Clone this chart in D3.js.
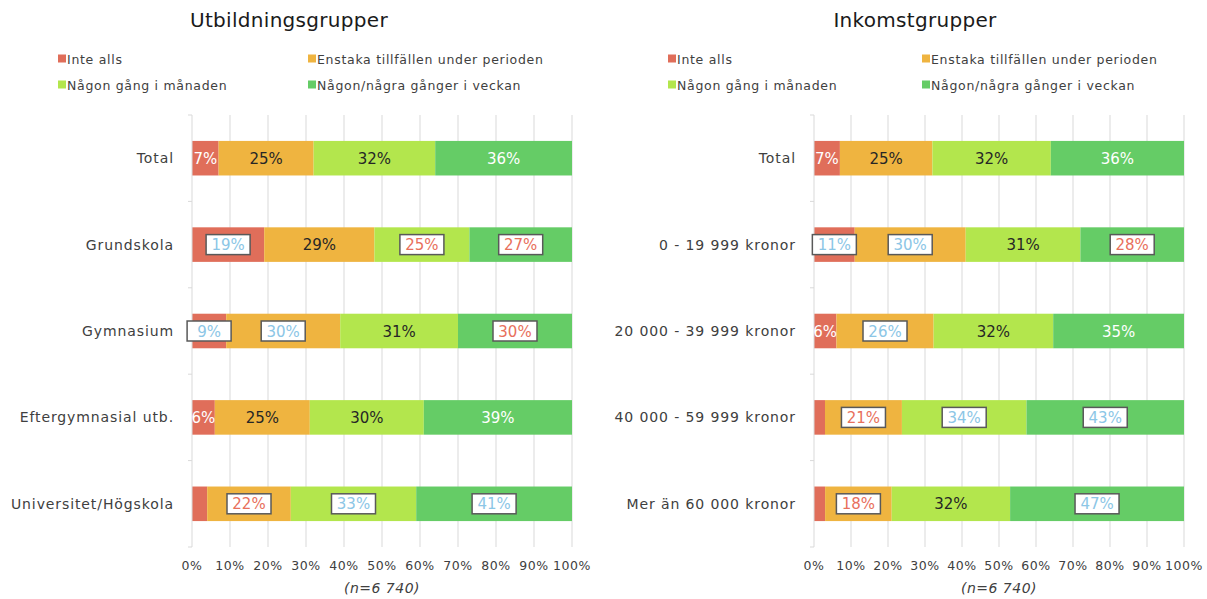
<!DOCTYPE html>
<html>
<head>
<meta charset="utf-8">
<script src="https://cdn.jsdelivr.net/npm/d3@7"></script>
<style>
  body { margin: 0; background: #fff; }
  svg text { font-family: "DejaVu Sans", sans-serif; }
</style>
</head>
<body>
<svg id="chart"></svg>
<script>
const width = 1207;
const height = 599;

// series (legend order)
const seriesNames = ['Inte alls', 'Enstaka tillfällen under perioden', 'Någon gång i månaden', 'Någon/några gånger i veckan'];
const seriesColors = ['#E06E5A', '#EFB440', '#B3E64D', '#65CC66'];
const plainTextColors = ['#ffffff', '#262626', '#262626', '#ffffff'];

// education groups
const eduCategories = ['Total', 'Grundskola', 'Gymnasium', 'Eftergymnasial utb.', 'Universitet/Högskola'];
const eduValues = [
  [7, 25, 32, 36],
  [19, 29, 25, 27],
  [9, 30, 31, 30],
  [6, 25, 30, 39],
  [4, 22, 33, 41]
];
// 'hi' = boxed blue, 'lo' = boxed red, '' = plain, 'none' = no label
const eduFlags = [
  ['', '', '', ''],
  ['hi', '', 'lo', 'lo'],
  ['hi', 'hi', '', 'lo'],
  ['', '', '', ''],
  ['none', 'lo', 'hi', 'hi']
];

// income groups
const incCategories = ['Total', '0 - 19 999 kronor', '20 000 - 39 999 kronor', '40 000 - 59 999 kronor', 'Mer än 60 000 kronor'];
const incValues = [
  [7, 25, 32, 36],
  [11, 30, 31, 28],
  [6, 26, 32, 35],
  [3, 21, 34, 43],
  [3, 18, 32, 47]
];
const incFlags = [
  ['', '', '', ''],
  ['hi', 'hi', '', 'lo'],
  ['', 'hi', '', ''],
  ['none', 'lo', 'hi', 'hi'],
  ['none', 'lo', '', 'hi']
];

const xTicks = [0, 10, 20, 30, 40, 50, 60, 70, 80, 90, 100];
const nText = '(n=6 740)';

const svg = d3.select('#chart')
  .attr('width', width)
  .attr('height', height);

function drawChart(opt) {
  const g = svg.append('g');
  const top = 115, bottom = 547;

  const x = d3.scaleLinear().domain([0, 100]).range([opt.x0, opt.x1]);
  const y = d3.scaleBand()
    .domain(opt.categories)
    .range([top, bottom])
    .paddingInner(0.6)
    .paddingOuter(0.3);

  // title
  g.append('text')
    .attr('x', opt.titleX)
    .attr('y', 27)
    .attr('text-anchor', 'middle')
    .attr('font-size', 20)
    .attr('letter-spacing', 0.3)
    .attr('fill', '#1a1a1a')
    .text(opt.title);

  // legend
  const legendPos = [[0, 0], [1, 0], [0, 1], [1, 1]];
  seriesNames.forEach((name, i) => {
    const lx = opt.legendX[legendPos[i][0]];
    const ly = 59 + legendPos[i][1] * 26;
    g.append('rect')
      .attr('x', lx).attr('y', ly - 4.5)
      .attr('width', 8).attr('height', 8)
      .attr('fill', seriesColors[i]);
    g.append('text')
      .attr('x', lx + 9).attr('y', ly + 4.5)
      .attr('font-size', 12.5)
      .attr('letter-spacing', 0.7)
      .attr('fill', '#404040')
      .text(name);
  });

  // gridlines
  g.selectAll('.grid')
    .data(xTicks.filter(d => d > 0))
    .enter()
    .append('line')
    .attr('x1', d => x(d)).attr('x2', d => x(d))
    .attr('y1', top).attr('y2', bottom)
    .attr('stroke', '#d9d9d9')
    .attr('stroke-width', 1);

  // x tick labels
  g.selectAll('.xlab')
    .data(xTicks)
    .enter()
    .append('text')
    .attr('x', d => x(d))
    .attr('y', 570)
    .attr('text-anchor', 'middle')
    .attr('font-size', 12.5)
    .attr('letter-spacing', 0.6)
    .attr('fill', '#404040')
    .text(d => d + '%');

  g.append('text')
    .attr('x', (opt.x0 + opt.x1) / 2)
    .attr('y', 593)
    .attr('text-anchor', 'middle')
    .attr('font-size', 14)
    .attr('font-style', 'italic')
    .attr('letter-spacing', 0.5)
    .attr('fill', '#404040')
    .text(nText);

  // bars
  const rows = opt.values.map((vals, r) => {
    const sum = d3.sum(vals);
    let acc = 0;
    return vals.map((v, i) => {
      const start = acc / sum * 100;
      acc += v;
      return { cat: opt.categories[r], v, i, start, end: acc / sum * 100, flag: opt.flags[r][i] };
    });
  });
  const segs = rows.flat();

  g.selectAll('.bar')
    .data(segs)
    .enter()
    .append('rect')
    .attr('x', d => x(d.start))
    .attr('y', d => y(d.cat))
    .attr('width', d => x(d.end) - x(d.start))
    .attr('height', y.bandwidth())
    .attr('fill', d => seriesColors[d.i]);

  // left axis with category ticks
  g.append('line')
    .attr('x1', opt.x0).attr('x2', opt.x0)
    .attr('y1', top).attr('y2', bottom)
    .attr('stroke', '#d9d9d9');
  d3.range(opt.categories.length + 1).forEach(k => {
    const ty = top + k * y.step();
    g.append('line')
      .attr('x1', opt.x0 - 4).attr('x2', opt.x0)
      .attr('y1', ty).attr('y2', ty)
      .attr('stroke', '#d9d9d9');
  });

  g.selectAll('.cat')
    .data(opt.categories)
    .enter()
    .append('text')
    .attr('x', opt.x0 - 18)
    .attr('y', d => y(d) + y.bandwidth() / 2 + 5)
    .attr('text-anchor', 'end')
    .attr('font-size', 14)
    .attr('letter-spacing', 0.9)
    .attr('fill', '#404040')
    .text(d => d);

  // data labels
  const labels = segs.filter(d => d.flag !== 'none');
  const lg = g.selectAll('.lab')
    .data(labels)
    .enter()
    .append('g')
    .attr('transform', d => `translate(${x((d.start + d.end) / 2)}, ${y(d.cat) + y.bandwidth() / 2})`);

  lg.filter(d => d.flag === 'hi' || d.flag === 'lo')
    .append('rect')
    .attr('x', -22).attr('y', -10)
    .attr('width', 44).attr('height', 20)
    .attr('fill', '#ffffff')
    .attr('stroke', '#595959')
    .attr('stroke-width', 1.5);

  lg.append('text')
    .attr('text-anchor', 'middle')
    .attr('y', 5.5)
    .attr('font-size', 15)
    .attr('fill', d => d.flag === 'hi' ? '#8CC6E6' : d.flag === 'lo' ? '#E8705C' : plainTextColors[d.i])
    .text(d => d.v + '%');
}

drawChart({
  title: 'Utbildningsgrupper',
  titleX: 289,
  legendX: [58, 308],
  x0: 192, x1: 572,
  categories: eduCategories,
  values: eduValues,
  flags: eduFlags
});

drawChart({
  title: 'Inkomstgrupper',
  titleX: 915,
  legendX: [668, 922],
  x0: 814, x1: 1184,
  categories: incCategories,
  values: incValues,
  flags: incFlags
});
</script>
</body>
</html>
